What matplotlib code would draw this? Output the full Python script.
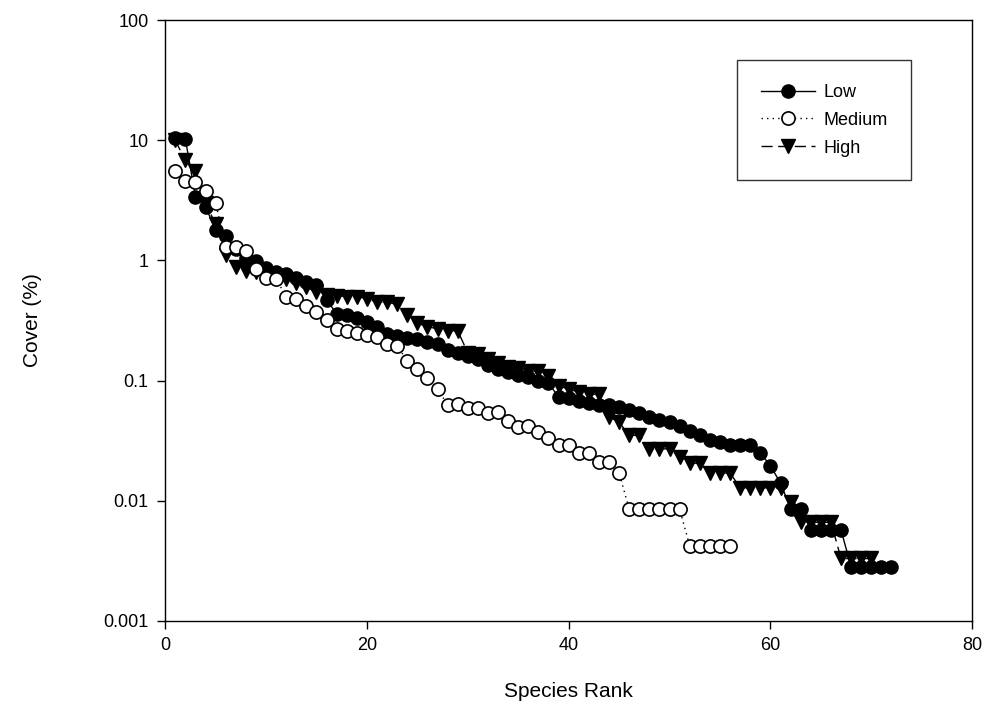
import numpy as np
import matplotlib.pyplot as plt
from matplotlib.ticker import FixedLocator, FixedFormatter, NullLocator

plt.rcParams['font.family'] = ['Liberation Sans', 'DejaVu Sans']

# cover (%) by species rank
low = [10.5, 10.3, 3.4, 2.8, 1.8, 1.6, 1.25, 1.05, 0.98, 0.87,
       0.8, 0.77, 0.72, 0.66, 0.62, 0.47, 0.36, 0.35, 0.33, 0.31,
       0.28, 0.245, 0.235, 0.225, 0.22, 0.21, 0.2, 0.18, 0.17, 0.16,
       0.15, 0.135, 0.125, 0.118, 0.111, 0.107, 0.1, 0.095, 0.073, 0.071,
       0.068, 0.065, 0.063, 0.062, 0.06, 0.057, 0.054, 0.05, 0.047, 0.045,
       0.042, 0.038, 0.035, 0.032, 0.031, 0.029, 0.029, 0.029, 0.025, 0.0195,
       0.014, 0.0086, 0.0086, 0.0057, 0.0057, 0.0057, 0.0057, 0.0028, 0.0028, 0.0028,
       0.0028, 0.0028]
medium = [5.5, 4.6, 4.5, 3.8, 3.0, 1.3, 1.3, 1.2, 0.85, 0.72,
          0.7, 0.5, 0.48, 0.42, 0.37, 0.32, 0.27, 0.26, 0.25, 0.24,
          0.23, 0.2, 0.195, 0.145, 0.125, 0.104, 0.085, 0.063, 0.064, 0.059,
          0.059, 0.054, 0.055, 0.046, 0.041, 0.042, 0.037, 0.033, 0.029, 0.029,
          0.025, 0.025, 0.021, 0.021, 0.017, 0.0085, 0.0085, 0.0085, 0.0085, 0.0085,
          0.0085, 0.0042, 0.0042, 0.0042, 0.0042, 0.0042]
high = [10.0, 6.8, 5.5, 3.0, 2.0, 1.1, 0.88, 0.82, 0.8, 0.77,
        0.72, 0.7, 0.65, 0.6, 0.55, 0.52, 0.51, 0.5, 0.5, 0.48,
        0.45, 0.45, 0.43, 0.35, 0.3, 0.28, 0.27, 0.26, 0.26, 0.17,
        0.165, 0.15, 0.14, 0.13, 0.128, 0.12, 0.12, 0.11, 0.09, 0.085,
        0.08, 0.077, 0.077, 0.05, 0.045, 0.035, 0.035, 0.027, 0.027, 0.027,
        0.023, 0.0205, 0.0205, 0.017, 0.017, 0.017, 0.0128, 0.0128, 0.0128, 0.0128,
        0.0128, 0.0098, 0.0066, 0.0066, 0.0066, 0.0066, 0.0033, 0.0033, 0.0033, 0.0033]

y_ticks = [0.001, 0.01, 0.1, 1, 10, 100]
y_labels = ['0.001', '0.01', '0.1', '1', '10', '100']
x_ticks = [0, 20, 40, 60, 80]

fig = plt.figure(figsize=(9.89, 7.21), dpi=100)
ax = fig.add_axes([0.167, 0.139, 0.816, 0.833])

ax.plot(np.arange(1, len(high) + 1), high, color='black', lw=1.0,
        linestyle=(0, (8, 4)), marker='v', markersize=10.5,
        markerfacecolor='black', markeredgecolor='black', label='High', zorder=2)
ax.plot(np.arange(1, len(low) + 1), low, color='black', lw=1.0,
        linestyle='-', marker='o', markersize=9.5,
        markerfacecolor='black', markeredgecolor='black', label='Low', zorder=3)
ax.plot(np.arange(1, len(medium) + 1), medium, color='black', lw=1.0,
        linestyle=(0, (1, 3)), marker='o', markersize=9.5, markeredgewidth=1.2,
        markerfacecolor='white', markeredgecolor='black', label='Medium', zorder=4)

ax.set_yscale('log')
ax.set_ylim(0.001, 100)
ax.set_xlim(0, 80)
ax.yaxis.set_major_locator(FixedLocator(y_ticks))
ax.yaxis.set_major_formatter(FixedFormatter(y_labels))
ax.yaxis.set_minor_locator(NullLocator())
ax.set_xticks(x_ticks)
ax.tick_params(direction='out', length=6, width=1, labelsize=13, pad=6)
for s in ax.spines.values():
    s.set_linewidth(1)

ax.set_xlabel('Species Rank', fontsize=15, labelpad=20)
ax.set_ylabel('Cover (%)', fontsize=15, labelpad=44)

# legend order: Low, Medium, High
h, l = ax.get_legend_handles_labels()
order = [1, 2, 0]
leg = ax.legend([h[i] for i in order], [l[i] for i in order],
                loc='upper right', bbox_to_anchor=(0.924, 0.933),
                borderaxespad=0, fontsize=13, frameon=True, fancybox=False,
                edgecolor='black', handlelength=3.0, handletextpad=0.45,
                borderpad=1.3, labelspacing=0.6)
leg.get_frame().set_linewidth(1)

fig.savefig('out.png', dpi=100)
